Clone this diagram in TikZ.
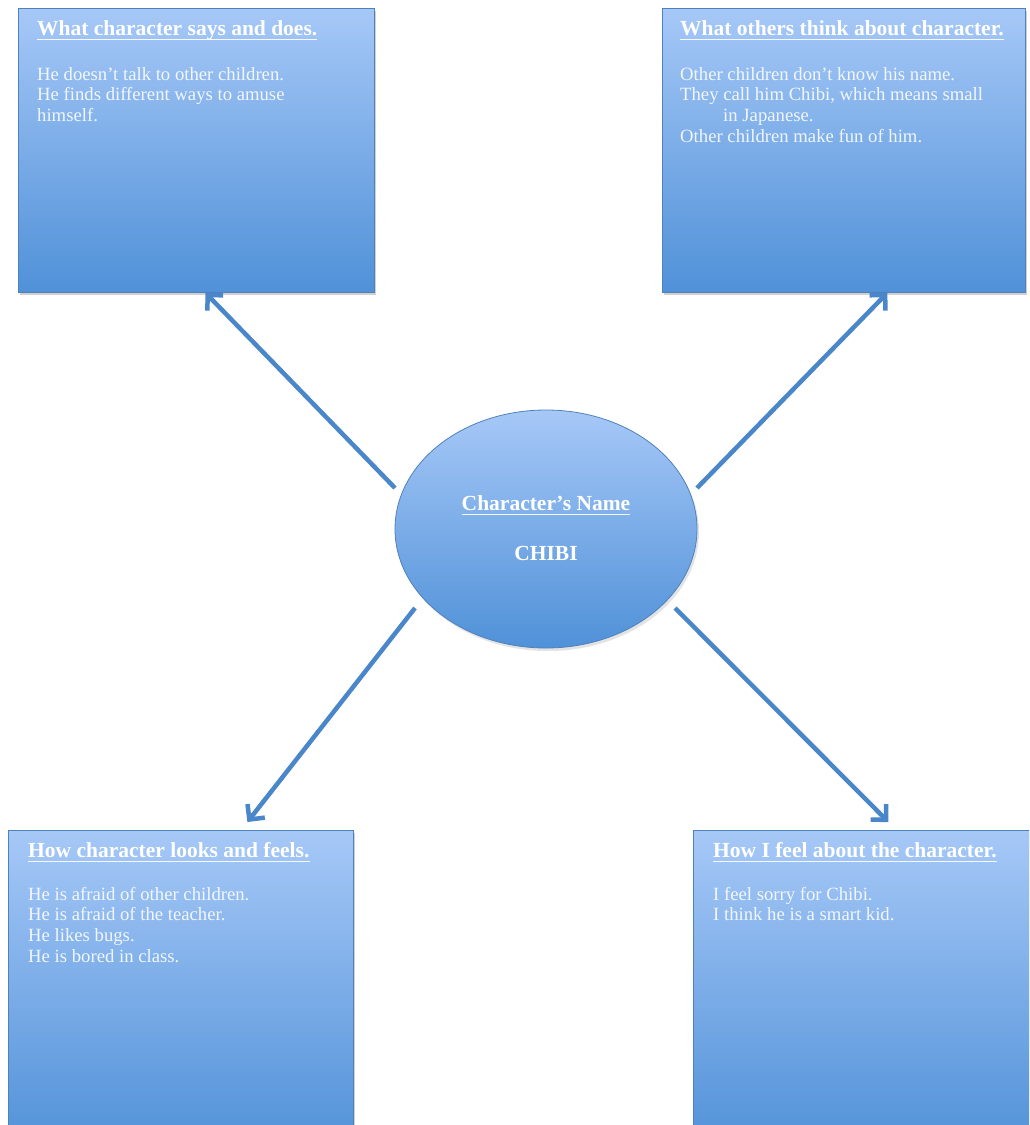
\documentclass[tikz,border=0pt]{standalone}
\usepackage{fontspec}
\setmainfont{Liberation Serif}
\usetikzlibrary{shadows,arrows.meta,shapes.geometric}

\definecolor{boxtop}{RGB}{166,200,247}
\definecolor{boxbot}{RGB}{80,145,216}
\definecolor{edgeblue}{RGB}{79,129,189}
\definecolor{arrowblue}{RGB}{74,134,202}

\tikzset{
  panel/.style={draw=edgeblue, line width=0.8pt, top color=boxtop, bottom color=boxbot,
    drop shadow={shadow xshift=2pt, shadow yshift=-3pt, opacity=0.3, fill=black!60},
    inner sep=0pt, anchor=north west},
  hub/.style={ellipse, draw=edgeblue, line width=0.8pt, top color=boxtop, bottom color=boxbot,
    drop shadow={shadow xshift=2pt, shadow yshift=-3pt, opacity=0.18, fill=black!60},
    inner sep=0pt},
  head/.style={font=\fontsize{21.5}{24}\selectfont\bfseries, text=white, inner sep=0pt, anchor=base west},
  body/.style={font=\fontsize{18.7}{20.7}\selectfont, text=white, text opacity=0.88, inner sep=0pt, anchor=base west},
  uline/.style={draw=white, line width=0.8pt, opacity=0.9},
  arr/.style={draw=arrowblue, line width=4.5pt, -{Straight Barb[length=11pt, width=22pt]}},
}

\begin{document}
\begin{tikzpicture}[x=1pt, y=-1pt]
\useasboundingbox (0,0) rectangle (1029,1125);
\fill[white] (0,0) rectangle (1029,1125);
\clip (0,0) rectangle (1029,1125);

% the four panels and the central ellipse
\node[panel, minimum width=356pt, minimum height=284pt] (says) at (18,8) {};
\node[panel, minimum width=363pt, minimum height=284pt] (others) at (662,8) {};
\node[panel, minimum width=345pt, minimum height=320pt] (looks) at (8,830) {};
\node[panel, minimum width=352pt, minimum height=320pt] (feel) at (693,830) {};
\node[hub, minimum width=302pt, minimum height=238pt] (name) at (546,529) {};

% top left panel
\node[head] (saysH) at (37,35) {What character says and does.};
\draw[uline] ([yshift=-4pt]saysH.base west) -- ([yshift=-4pt]saysH.base east);
\node[body] (saysT) at (37,80) {\vtop{\hbox{He doesn’t talk to other children.}\hbox{He finds different ways to amuse}\hbox{himself.}}};

% top right panel
\node[head] (othersH) at (680,35) {What others think about character.};
\draw[uline] ([yshift=-4pt]othersH.base west) -- ([yshift=-4pt]othersH.base east);
\node[body] (othersT) at (680,80) {\vtop{\hbox{Other children don’t know his name.}\hbox{They call him Chibi, which means small}\hbox{\hspace*{43pt}in Japanese.}\hbox{Other children make fun of him.}}};

% bottom left panel
\node[head] (looksH) at (28,857) {How character looks and feels.};
\draw[uline] ([yshift=-4pt]looksH.base west) -- ([yshift=-4pt]looksH.base east);
\node[body] (looksT) at (28,900) {\vtop{\hbox{He is afraid of other children.}\hbox{He is afraid of the teacher.}\hbox{He likes bugs.}\hbox{He is bored in class.}}};

% bottom right panel
\node[head] (feelH) at (713,857) {How I feel about the character.};
\draw[uline] ([yshift=-4pt]feelH.base west) -- ([yshift=-4pt]feelH.base east);
\node[body] (feelT) at (713,900) {\vtop{\hbox{I feel sorry for Chibi.}\hbox{I think he is a smart kid.}}};

% centre
\node[head, anchor=base] (nameH) at (546,510) {Character’s Name};
\draw[uline] ([yshift=-4pt]nameH.base west) -- ([yshift=-4pt]nameH.base east);
\node[head, anchor=base] (chibi) at (546,560) {CHIBI};

% connectors
\coordinate (s1) at (395,488);
\coordinate (s2) at (697,488);
\coordinate (s3) at (415,608);
\coordinate (s4) at (675,608);
\draw[arr] (s1) -- ([xshift=9pt]says.south);
\draw[arr] (s2) -- ([xshift=43.5pt]others.south);
\draw[arr] (s3) -- ([xshift=66.5pt,yshift=8pt]looks.north);
\draw[arr] (s4) -- ([xshift=19pt,yshift=8pt]feel.north);
\end{tikzpicture}
\end{document}
